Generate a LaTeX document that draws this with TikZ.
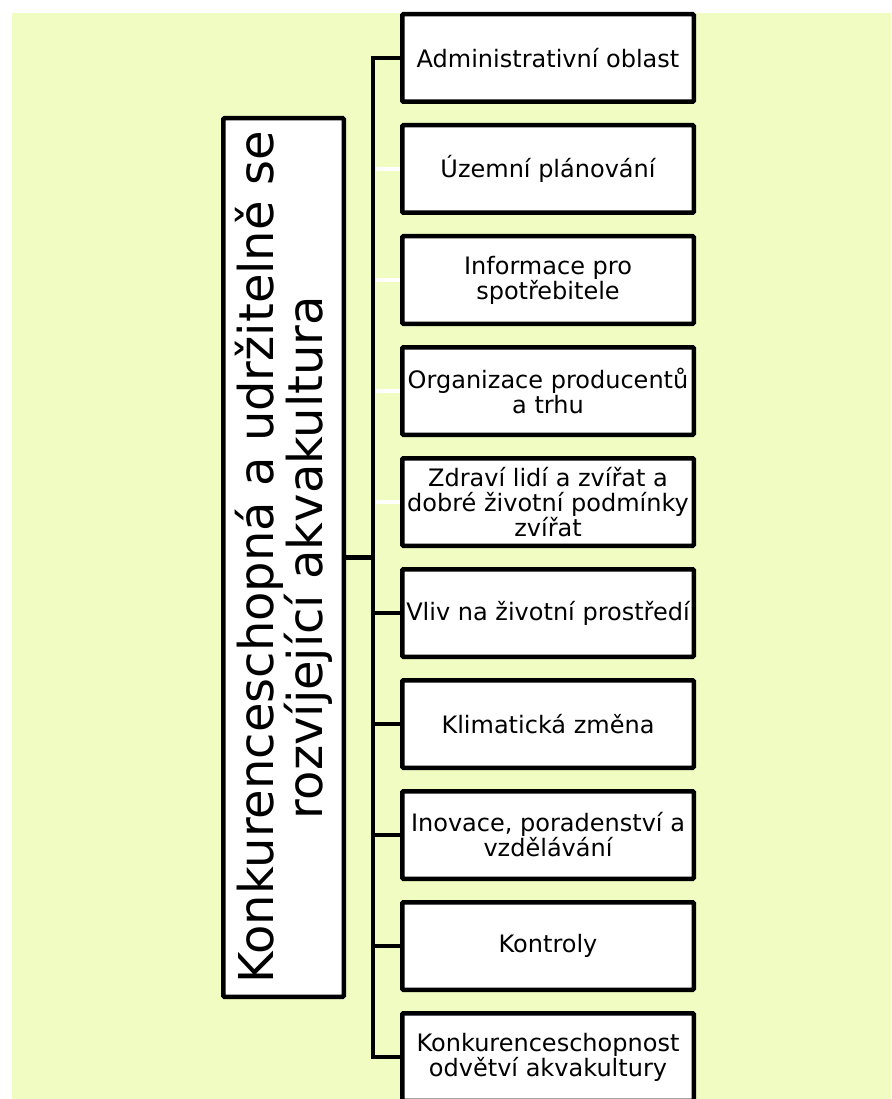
\documentclass[tikz,border=0pt]{standalone}
\usepackage{fontspec}
\setmainfont{DejaVu Sans}
\usepackage{tikz}
\usetikzlibrary{calc}
\definecolor{pozadi}{RGB}{240,252,194}

\tikzset{
  leaf/.style={draw=black, fill=white, line width=4.5pt, rounded corners=1pt,
    minimum width=291.5pt, minimum height=87.5pt, inner sep=0pt, align=center,
    font=\fontsize{24}{25}\selectfont},
  root/.style={draw=black, fill=white, line width=4.5pt, rounded corners=1pt,
    minimum width=878.5pt, minimum height=120.5pt, inner sep=0pt, align=center,
    rotate=90, font=\fontsize{48}{49}\selectfont},
  link/.style={draw=black, line width=4.5pt},
  ghost/.style={draw=white, line width=4pt},
}

\begin{document}
\begin{tikzpicture}[x=1pt, y=-1pt]

	\useasboundingbox (0,0) rectangle (891,1099);
	\fill[pozadi] (12,13) rectangle (891,1099);

	% rotated box, so .south is its right side
	\node[root] (main) at (283.5,557.5) {Konkurenceschopná a udržitelně se\\rozvíjející akvakultura};

	\foreach \txt [count=\i from 0] in {{Administrativní oblast}, {Územní plánování},
		{Informace pro\\spotřebitele}, {Organizace producentů\\a trhu},
		{Zdraví lidí a zvířat a\\dobré životní podmínky\\zvířat}, {Vliv na životní prostředí},
		{Klimatická změna}, {Inovace, poradenství a\\vzdělávání}, {Kontroly},
		{Konkurenceschopnost\\odvětví akvakultury}}
		\node[leaf] (b\i) at (548,{58+111*\i}) {\txt};

	\coordinate (hub) at (373,557.5);

	\draw[link] (main.south) -- (hub) |- (b0.west);
	\draw[link] (main.south) -- (hub) |- (b9.west);
	\foreach \i in {1,...,4}
		\draw[ghost] (hub |- b\i.west) ++(2.5,0) -- (b\i.west);
	\foreach \i in {5,...,8}
		\draw[link] (hub |- b\i.west) -- (b\i.west);

\end{tikzpicture}
\end{document}
